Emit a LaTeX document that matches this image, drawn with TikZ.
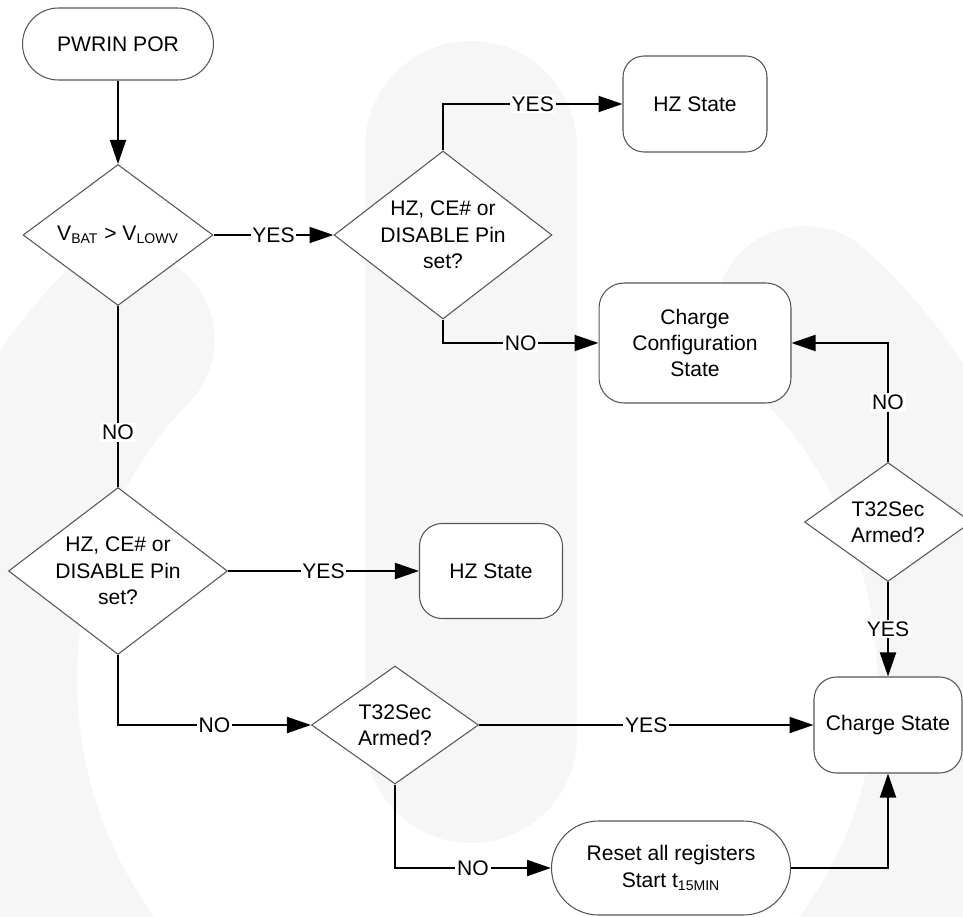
\documentclass[tikz,border=0pt]{standalone}
\usepackage{fontspec}
\setmainfont{Liberation Sans}
\usetikzlibrary{shapes.geometric, arrows.meta}
\definecolor{wmark}{HTML}{F6F6F6}
\definecolor{edge}{HTML}{555555}
\tikzset{
  base/.style={draw=edge, line width=0.6pt, fill=white, align=center,
               font=\fontsize{12}{15}\selectfont},
  state/.style={base, rectangle, rounded corners=0.45cm, inner sep=2pt},
  term/.style={base, rectangle, inner sep=2pt},
  decide/.style={base, diamond, inner sep=0pt, shape aspect=1.3},
  link/.style={line width=1.1pt},
  flow/.style={link, -{Triangle[length=4.8mm, width=3.2mm]}},
  lbl/.style={fill=white, inner sep=1pt, font=\fontsize{12}{15}\selectfont}
}

\begin{document}
\begin{tikzpicture}[x=0.02cm, y=-0.02cm]
  \clip (0,0) rectangle (963,916);
  % faint watermark behind the chart
  \draw[wmark, line width=4.24cm, line cap=round] (471,147) -- (471,737);
  \draw[wmark, line width=3.6cm, line cap=round]
    ([shift={(136:9.8cm)}]477,680) arc[start angle=136, end angle=408, radius=9.8cm];

  % power on and battery check
  \node[term, minimum width=3.82cm, minimum height=1.44cm, rounded corners=0.72cm] (por) at (118,44) {PWRIN POR};
  \node[decide, minimum width=3.8cm, minimum height=2.82cm] (vbat) at (118,235) {V\textsubscript{BAT} > V\textsubscript{LOWV}};

  % battery good branch
  \node[decide, minimum width=4.36cm, minimum height=3.36cm] (pin1) at (443,235) {HZ, CE\# or\\DISABLE Pin\\set?};
  \node[state, minimum width=2.88cm, minimum height=1.92cm, rounded corners=0.42cm] (hz1) at (695,104) {HZ State};
  \node[state, minimum width=3.84cm, minimum height=2.4cm, rounded corners=0.5cm] (cfg) at (695,343) {Charge\\Configuration\\State};
  \node[decide, minimum width=3.34cm, minimum height=2.38cm] (arm2) at (888,522) {T32Sec\\Armed?};
  \node[state, minimum width=2.96cm, minimum height=1.92cm] (chg) at (888,725) {Charge State};

  % battery low branch
  \node[decide, minimum width=4.38cm, minimum height=3.34cm] (pin2) at (118,571) {HZ, CE\# or\\DISABLE Pin\\set?};
  \node[state, minimum width=2.86cm, minimum height=1.9cm] (hz2) at (491,571) {HZ State};
  \node[decide, minimum width=3.34cm, minimum height=2.36cm] (arm1) at (395,725) {T32Sec\\Armed?};
  \node[term, minimum width=4.78cm, minimum height=1.88cm, rounded corners=0.94cm] (rst) at (671,868) {Reset all registers\\Start t\textsubscript{15MIN}};

  \draw[flow] (por) -- (vbat);
  \draw[flow] (vbat) -- node[lbl]{YES} (pin1);
  \draw[flow] (pin1.north) |- node[lbl, pos=0.75]{YES} (hz1);
  \draw[flow] (pin1.south) |- node[lbl, pos=0.75]{NO} (cfg);
  \draw[flow] (arm2.north) |- node[lbl, pos=0.25]{NO} (cfg.east);
  \draw[flow] (arm2) -- node[lbl]{YES} (chg);
  \draw[link] (vbat) -- node[lbl, pos=0.7]{NO} (pin2);
  \draw[flow] (pin2) -- node[lbl]{YES} (hz2);
  \draw[flow] (pin2.south) |- node[lbl, pos=0.75]{NO} (arm1);
  \draw[flow] (arm1) -- node[lbl]{YES} (chg);
  \draw[flow] (arm1.south) |- node[lbl, pos=0.75]{NO} (rst);
  \draw[flow] (rst) -| (chg);
\end{tikzpicture}
\end{document}
